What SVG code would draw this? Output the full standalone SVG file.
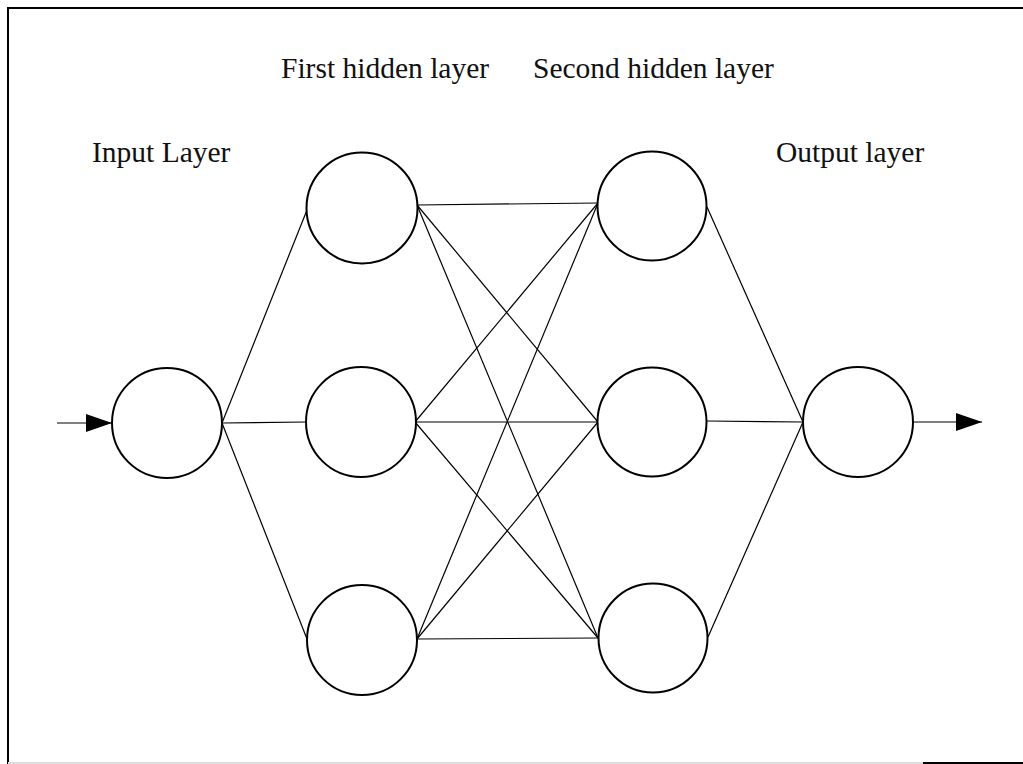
<svg xmlns="http://www.w3.org/2000/svg" width="1023" height="764" viewBox="0 0 1023 764">
  <defs>
    <marker id="arrow" viewBox="0 0 26 18" refX="26" refY="9" markerWidth="26" markerHeight="18" markerUnits="userSpaceOnUse" orient="auto">
      <path d="M0,0 L26,9 L0,18 Z" fill="#000"/>
    </marker>
    <style>
      .node { fill: #fff; stroke: #000; stroke-width: 2; }
      .edge { stroke: #000; stroke-width: 1.2; fill: none; }
      .label { font-family: "Liberation Serif", "Times New Roman", serif; font-size: 29.5px; fill: #111; }
      .frame { stroke: #000; stroke-width: 2; fill: none; }
    </style>
  </defs>
  <rect width="1023" height="764" fill="#fff"/>
  <g id="frame">
    <line class="frame" x1="7" y1="8" x2="1023" y2="8"/>
    <line class="frame" x1="8" y1="7" x2="8" y2="764"/>
    <line x1="8" y1="763" x2="923" y2="763" stroke="#ddd" stroke-width="2"/>
    <line class="frame" x1="923" y1="763" x2="1023" y2="763"/>
  </g>
  <g id="labels">
    <text class="label" x="92" y="162">Input Layer</text>
    <text class="label" x="281" y="78">First hidden layer</text>
    <text class="label" x="533" y="78">Second hidden layer</text>
    <text class="label" x="776" y="162">Output layer</text>
  </g>
  <g id="connectors">
    <line class="edge" x1="57" y1="423" x2="112" y2="423" marker-end="url(#arrow)"/>
    <line class="edge" x1="222" y1="423" x2="307" y2="210"/>
    <line class="edge" x1="222" y1="423" x2="306" y2="422"/>
    <line class="edge" x1="222" y1="423" x2="307" y2="639"/>
    <line class="edge" x1="417" y1="205" x2="598" y2="203"/>
    <line class="edge" x1="417" y1="205" x2="598" y2="422"/>
    <line class="edge" x1="417" y1="205" x2="598" y2="638"/>
    <line class="edge" x1="415" y1="422" x2="598" y2="203"/>
    <line class="edge" x1="415" y1="422" x2="598" y2="422"/>
    <line class="edge" x1="415" y1="422" x2="598" y2="638"/>
    <line class="edge" x1="417" y1="639" x2="598" y2="203"/>
    <line class="edge" x1="417" y1="639" x2="598" y2="422"/>
    <line class="edge" x1="417" y1="639" x2="598" y2="638"/>
    <line class="edge" x1="707" y1="207" x2="803" y2="422"/>
    <line class="edge" x1="707" y1="421" x2="803" y2="422"/>
    <line class="edge" x1="708" y1="637" x2="803" y2="422"/>
    <line class="edge" x1="913" y1="422" x2="982" y2="422" marker-end="url(#arrow)"/>
  </g>
  <g id="input"><circle class="node" cx="167" cy="423" r="55"/></g>
  <g id="h1-top"><circle class="node" cx="362" cy="208" r="55.5"/></g>
  <g id="h1-mid"><circle class="node" cx="361" cy="422" r="55"/></g>
  <g id="h1-bot"><circle class="node" cx="362" cy="640" r="55"/></g>
  <g id="h2-top"><circle class="node" cx="652" cy="206" r="54.5"/></g>
  <g id="h2-mid"><circle class="node" cx="652" cy="422" r="54.5"/></g>
  <g id="h2-bot"><circle class="node" cx="653" cy="638" r="54.5"/></g>
  <g id="output"><circle class="node" cx="858" cy="422" r="55"/></g>
</svg>
